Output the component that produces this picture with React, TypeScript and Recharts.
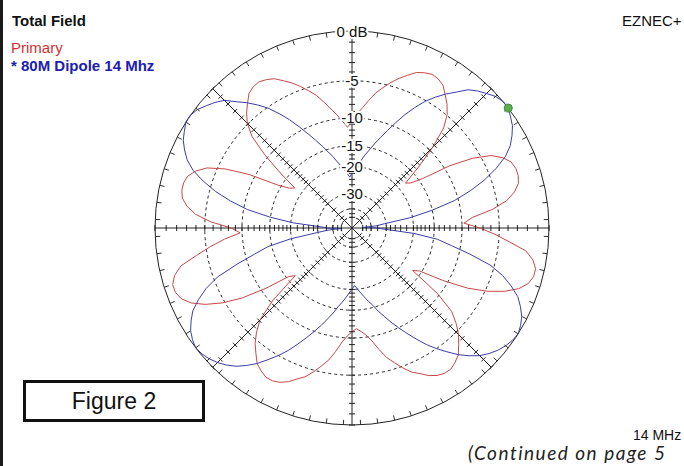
import React from 'react';
import { RadarChart, Radar, PolarGrid, PolarAngleAxis, PolarRadiusAxis } from 'recharts';

// azimuth angles (deg) for one quadrant; the upper/lower right half is read off the plot,
// the left half is its mirror image
const ANGLES = [
  0, 2.5, 5, 7.5, 10, 12.5, 15, 17.5, 20, 22.5, 25, 27.5, 30, 32.5, 35, 37.5, 40, 42.5, 45,
  47.5, 50, 52.5, 55, 57.5, 60, 62.5, 65, 67.5, 70, 72.5, 75, 77.5, 80, 82.5, 85, 87.5, 90,
];

// "Primary" (red), dB at +angle (upper right) and -angle (lower right)
const PRIMARY_UPPER = [
  -9.7, -8.4, -5.7, -3.9, -2.9, -2.3, -2.1, -2.1, -2.3, -2.9, -3.9, -5.9, -9.1, -14.2, -16.8,
  -17.8, -13.4, -9.4, -6.4, -4.9, -4.0, -3.3, -2.6, -2.3, -2.2, -2.4, -2.7, -3.3, -3.9, -4.6,
  -5.4, -6.2, -7.3, -8.4, -9.4, -10.5, -11.5,
];
const PRIMARY_LOWER = [
  -9.7, -7.4, -5.5, -3.8, -2.0, -1.2, -0.8, -0.8, -1.1, -1.8, -3.0, -4.7, -7.1, -10.8, -15.5,
  -16.8, -10.3, -7.1, -5.7, -4.6, -3.8, -3.0, -2.6, -2.3, -2.3, -2.5, -2.9, -3.5, -4.0, -4.8,
  -5.7, -6.6, -7.9, -9.3, -10.3, -11.0, -11.5,
];

// "* 80M Dipole 14 Mhz" (blue)
const DIPOLE_UPPER = [
  -50, -36.1, -30.7, -20.7, -15.0, -10.6, -7.9, -5.7, -4.0, -2.6, -1.7, -1.1, -0.6, -0.3, 0,
  0, -0.2, -0.6, -1.0, -1.5, -2.4, -3.2, -4.1, -5.1, -6.4, -7.8, -9.4, -11.0, -12.5, -14.0,
  -15.5, -16.8, -18.3, -19.6, -20.8, -22.0, -23.2,
];
const DIPOLE_LOWER = [
  -50, -36.1, -29.7, -19.8, -14.2, -11.5, -8.4, -5.5, -3.8, -2.6, -1.6, -1.0, -0.5, -0.2, 0,
  -0.1, -0.3, -0.6, -1.0, -1.5, -2.2, -3.0, -4.0, -5.0, -6.1, -7.4, -8.7, -10.0, -11.3, -12.7,
  -14.0, -15.5, -16.6, -17.8, -19.0, -20.1, -21.1,
];

const CURSOR_ANGLE = 35;

const RING_DB = [-5, -10, -15, -20, -30, -40, -50];
const RING_LABEL_DB = [0, -5, -10, -15, -20, -30];
const AXIS_TICK_DB = [
  0, -1, -2, -3, -4, -5, -6, -7, -8, -9, -10, -11, -12, -13, -14, -15, -16, -17, -18, -19, -20,
  -22, -24, -26, -28, -30, -35, -40, -45, -50,
];
const SPOKE_ANGLES = [0, 45, 90, 135, 180, 225, 270, 315];

const CX = 352;
const CY = 228;
const OUTER_R = 197;

// EZNEC "ARRL log" radial scale: radius shrinks by 0.89 every 2 dB
const toRadial = (db: number) => Math.pow(0.89, -db / 2);

function buildRows() {
  const n = ANGLES.length - 1;
  const step = ANGLES[1] - ANGLES[0];
  const rows: { angle: number; primary: number; dipole: number }[] = [];
  for (let i = 0; i < 4 * n; i++) {
    const upper = i <= 2 * n;
    const k = i <= n ? i : i <= 2 * n ? 2 * n - i : i <= 3 * n ? i - 2 * n : 4 * n - i;
    const p = upper ? PRIMARY_UPPER[k] : PRIMARY_LOWER[k];
    const d = upper ? DIPOLE_UPPER[k] : DIPOLE_LOWER[k];
    rows.push({ angle: i * step, primary: toRadial(p), dipole: toRadial(d) });
  }
  return rows;
}

const rows = buildRows();
const cursorIndex = rows.findIndex((r) => r.angle === CURSOR_ANGLE);

// 5 degree marks just inside the 0 dB circle
function RimTick(props: any) {
  const { x, y, index } = props;
  if (index % 2 !== 0) return null;
  const dx = x - CX;
  const dy = y - CY;
  const len = Math.hypot(dx, dy) || 1;
  const ux = dx / len;
  const uy = dy / len;
  return (
    <line
      x1={CX + ux * OUTER_R}
      y1={CY + uy * OUTER_R}
      x2={CX + ux * (OUTER_R - 5)}
      y2={CY + uy * (OUTER_R - 5)}
      stroke="#333"
    />
  );
}

// the radius axis sits on the 90 deg spoke; its tick radius is reused for the cross marks
// on every spoke
function SpokeTick(props: any) {
  const { y, index } = props;
  const r = CY - y;
  const db = AXIS_TICK_DB[index];
  return (
    <g>
      {SPOKE_ANGLES.map((a) => {
        const rad = (a * Math.PI) / 180;
        const x0 = CX + r * Math.cos(rad);
        const y0 = CY - r * Math.sin(rad);
        const px = Math.sin(rad) * 3;
        const py = Math.cos(rad) * 3;
        return <line key={a} x1={x0 - px} y1={y0 - py} x2={x0 + px} y2={y0 + py} stroke="#222" />;
      })}
      {RING_LABEL_DB.includes(db) && (
        <text
          x={CX}
          y={y}
          textAnchor="middle"
          dominantBaseline="central"
          fontSize={15}
          fontFamily='"Liberation Sans", Arial, sans-serif'
          fill="#111"
          stroke="#fff"
          strokeWidth={4}
          paintOrder="stroke"
        >
          {db === 0 ? '0 dB' : String(db)}
        </text>
      )}
    </g>
  );
}

function CursorDot(props: any) {
  const { cx, cy, index } = props;
  if (index !== cursorIndex) return null;
  return <circle cx={cx} cy={cy} r={4} fill="#5fae4f" stroke="#3f8a35" />;
}

const textBase: React.CSSProperties = {
  position: 'absolute',
  fontFamily: '"Liberation Sans", Arial, sans-serif',
  fontSize: 15,
  lineHeight: '15px',
  whiteSpace: 'nowrap',
};

export default function App() {
  const tickValues = AXIS_TICK_DB.map(toRadial);
  return (
    <div
      style={{
        position: 'absolute',
        left: 0,
        top: 0,
        width: 684,
        height: 466,
        background: '#fff',
        overflow: 'hidden',
      }}
    >
      <RadarChart
        width={684}
        height={466}
        data={rows}
        cx={CX}
        cy={CY}
        innerRadius={0}
        outerRadius={OUTER_R}
        startAngle={0}
        endAngle={360}
        margin={{ top: 0, right: 0, bottom: 0, left: 0 }}
      >
        <PolarGrid
          gridType="circle"
          polarAngles={SPOKE_ANGLES}
          polarRadius={[OUTER_R]}
          stroke="#222"
        />
        <PolarGrid
          gridType="circle"
          radialLines={false}
          polarRadius={RING_DB.map((db) => toRadial(db) * OUTER_R)}
          stroke="#222"
          strokeDasharray="3 3"
        />
        <PolarAngleAxis dataKey="angle" axisLine={false} tickLine={false} tick={RimTick} />
        <Radar
          dataKey="primary"
          stroke="#c84848"
          strokeWidth={1}
          fill="none"
          fillOpacity={0}
          dot={false}
          isAnimationActive={false}
        />
        <Radar
          dataKey="dipole"
          stroke="#3d3da8"
          strokeWidth={1}
          fill="none"
          fillOpacity={0}
          dot={CursorDot}
          isAnimationActive={false}
        />
        <PolarRadiusAxis
          angle={90}
          type="number"
          domain={[0, 1]}
          ticks={tickValues}
          axisLine={false}
          tickLine={false}
          tick={SpokeTick}
        />
      </RadarChart>

      <div style={{ ...textBase, left: 12, top: 13, fontWeight: 700, color: '#111' }}>Total Field</div>
      <div style={{ ...textBase, left: 11, top: 40, color: '#d03030' }}>Primary</div>
      <div style={{ ...textBase, left: 11, top: 58, fontWeight: 700, color: '#2020b0' }}>
        * 80M Dipole 14 Mhz
      </div>
      <div style={{ ...textBase, left: 622, top: 13, color: '#111' }}>EZNEC+</div>
      <div style={{ ...textBase, left: 633, top: 428, fontSize: 14, color: '#111' }}>14 MHz</div>
      <div
        style={{
          ...textBase,
          left: 468,
          top: 443,
          fontFamily: 'Lato, "Open Sans", sans-serif',
          fontStyle: 'italic',
          fontSize: 19,
          lineHeight: '19px',
          letterSpacing: 1.5,
          color: '#222',
        }}
      >
        (Continued on page 5
      </div>
      <div
        style={{
          position: 'absolute',
          left: 23,
          top: 380,
          width: 182,
          height: 42,
          boxSizing: 'border-box',
          border: '3px solid #111',
          background: '#fff',
          display: 'flex',
          alignItems: 'center',
          justifyContent: 'center',
          fontFamily: '"Liberation Sans", Arial, sans-serif',
          fontSize: 23,
          color: '#111',
        }}
      >
        Figure 2
      </div>
      <div style={{ position: 'absolute', left: 0, top: 0, width: 3, height: 466, background: '#1a1a1a' }} />
    </div>
  );
}
